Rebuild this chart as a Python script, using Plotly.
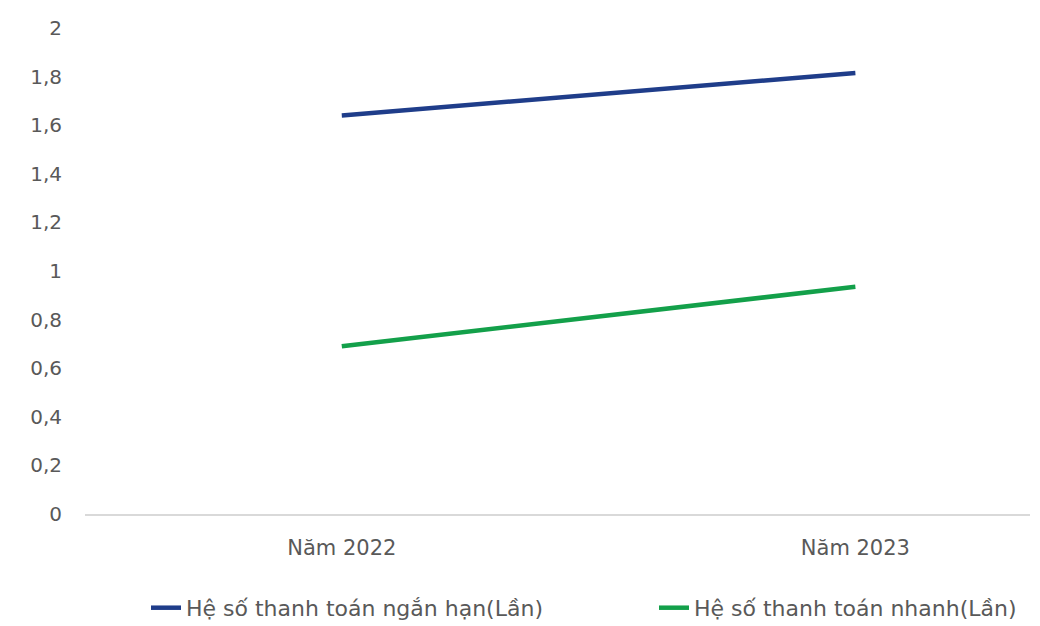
import plotly.graph_objects as go

categories = ["Năm 2022", "Năm 2023"]
short_term = [1.64, 1.815]
quick = [0.69, 0.935]
series_names = ["Hệ số thanh toán ngắn hạn(Lần)", "Hệ số thanh toán nhanh(Lần)"]
y_ticks = [0, 0.2, 0.4, 0.6, 0.8, 1, 1.2, 1.4, 1.6, 1.8, 2]
y_labels = ["0", "0,2", "0,4", "0,6", "0,8", "1", "1,2", "1,4", "1,6", "1,8", "2"]

font_family = "DejaVu Sans, sans-serif"
gray = "#595959"

W, H = 1032, 618
ml, mr, mt, mb = 77, 10, 20, 112
pw = W - ml - mr

fig = go.Figure()
fig.add_trace(go.Scatter(x=[0, 1], y=short_term, mode="lines", name=series_names[0],
                         line=dict(color="#1f3d8a", width=4.5), legend="legend"))
fig.add_trace(go.Scatter(x=[0, 1], y=quick, mode="lines", name=series_names[1],
                         line=dict(color="#13a04a", width=4.5), legend="legend2"))

leg_common = dict(orientation="h", xanchor="left", y=-0.15, yanchor="top",
                  font=dict(size=22, color=gray), bgcolor="rgba(0,0,0,0)")

fig.update_layout(
    width=W, height=H,
    margin=dict(l=ml, r=mr, t=mt, b=mb, autoexpand=False),
    paper_bgcolor="white", plot_bgcolor="white",
    font=dict(family=font_family, size=20, color=gray),
    showlegend=True,
    legend=dict(x=(138 - ml) / pw, **leg_common),
    legend2=dict(x=(646 - ml) / pw, **leg_common),
    xaxis=dict(range=[-0.5, 1.34], tickmode="array", tickvals=[0, 1], ticktext=categories,
               showgrid=False, zeroline=False, showline=True, linecolor="#d9d9d9", linewidth=1.5,
               ticks="", tickfont=dict(size=21, color=gray), fixedrange=True, automargin=False),
    yaxis=dict(range=[0, 2], tickmode="array", tickvals=y_ticks, ticktext=y_labels,
               showgrid=False, zeroline=False, showline=False, ticks="", ticklen=0,
               tickfont=dict(size=20, color=gray), automargin=False),
)
fig.update_xaxes(ticklabelstandoff=14)
fig.update_yaxes(ticklabelstandoff=22)
fig.write_html("out.html")
